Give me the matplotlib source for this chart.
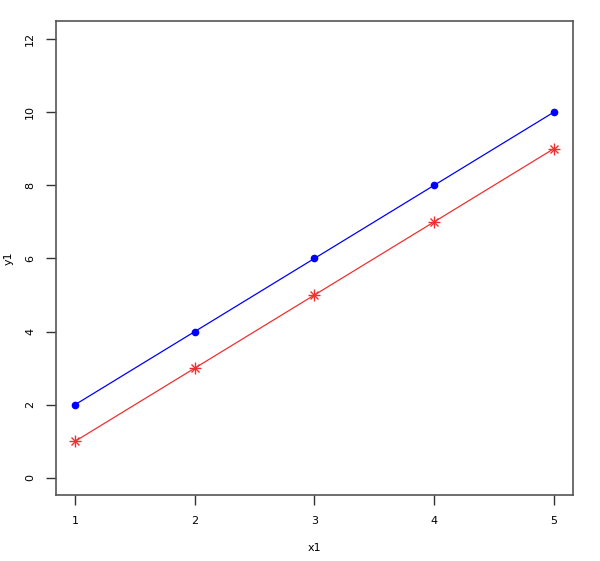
import matplotlib.pyplot as plt

x1 = [1, 2, 3, 4, 5]
y1 = [2, 4, 6, 8, 10]
y2 = [1, 3, 5, 7, 9]

fig = plt.figure(figsize=(6, 5.61), dpi=100)
ax = fig.add_axes([0.093, 0.1168, 0.862, 0.845])

ax.plot(x1, y1, color="blue", linewidth=0.9, marker="o", markersize=4.5)
ax.plot(x1, y2, color="#f03030", linewidth=0.9)
ax.plot(x1, y2, linestyle="none", marker="+", markersize=8, color="#f03030", markeredgewidth=1)
ax.plot(x1, y2, linestyle="none", marker="x", markersize=5.5, color="#f03030", markeredgewidth=1)

ax.set_xlim(0.84, 5.16)
ax.set_ylim(-0.48, 12.48)
ax.set_xticks(x1)
ax.set_yticks([0, 2, 4, 6, 8, 10, 12])
ax.tick_params(direction="out", length=7, width=1, labelsize=8, pad=8, color="#333333")
for lab in ax.get_yticklabels():
    lab.set_rotation(90)
    lab.set_va("center")
for s in ax.spines.values():
    s.set_color("#555555")
    s.set_linewidth(1.2)

ax.set_xlabel("x1", fontsize=8, labelpad=12)
ax.set_ylabel("y1", fontsize=8, labelpad=8)

fig.savefig("out.png", dpi=100)
